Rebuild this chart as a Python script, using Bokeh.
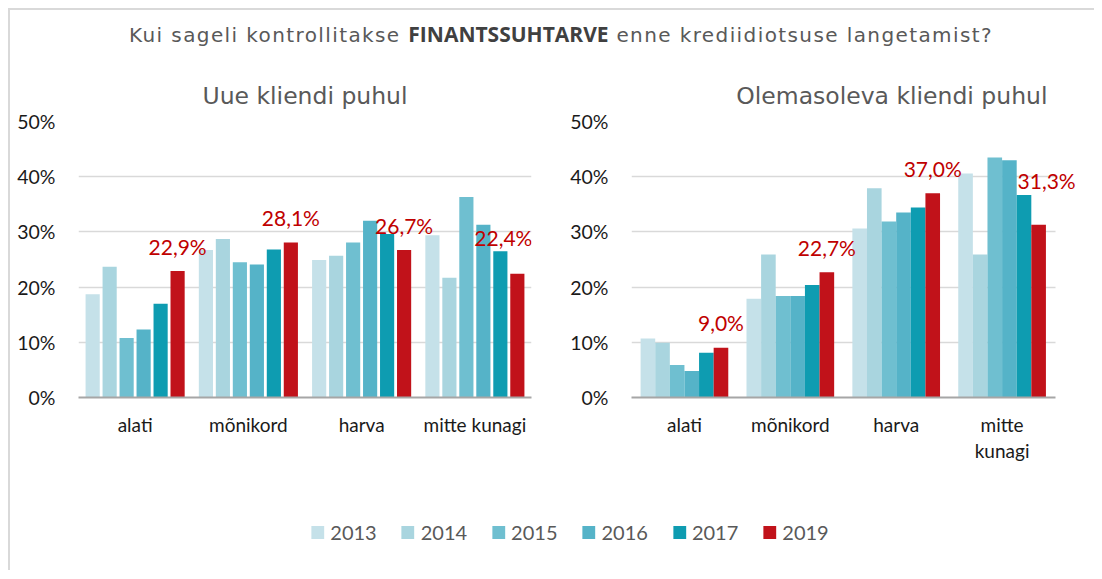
from bokeh.plotting import figure
from bokeh.models import (ColumnDataSource, Range1d, FixedTicker,
                          PrintfTickFormatter, Legend, LegendItem, Div, Label)
from bokeh.layouts import column, row
from bokeh.embed import file_html
from bokeh.resources import INLINE

# ---------------- data ----------------
categories = ["alati", "mõnikord", "harva", "mitte kunagi"]
left_tick_labels = ["alati", "mõnikord", "harva", "mitte kunagi"]
right_tick_labels = ["alati", "mõnikord", "harva", "mitte\nkunagi"]
years = ["2013", "2014", "2015", "2016", "2017", "2019"]

# Uue kliendi puhul
new_2013 = [18.7, 26.7, 24.9, 29.4]
new_2014 = [23.7, 28.7, 25.7, 21.7]
new_2015 = [10.8, 24.5, 28.1, 36.3]
new_2016 = [12.3, 24.1, 32.0, 31.3]
new_2017 = [17.0, 26.8, 29.6, 26.5]
new_2019 = [22.9, 28.1, 26.7, 22.4]

# Olemasoleva kliendi puhul
old_2013 = [10.7, 17.9, 30.6, 40.6]
old_2014 = [9.9, 25.9, 37.9, 25.9]
old_2015 = [5.9, 18.4, 31.9, 43.5]
old_2016 = [4.8, 18.4, 33.5, 43.0]
old_2017 = [8.1, 20.4, 34.4, 36.7]
old_2019 = [9.0, 22.7, 37.0, 31.3]

y_ticks = [0, 10, 20, 30, 40, 50]

# ---------------- style ----------------
colors = ["#C5E1E9", "#A9D5DF", "#6FBFD0", "#55B3C8", "#0E9CB1", "#C1121A"]
label_color = "#C00000"
title_color = "#595959"
grid_color = "#D9D9D9"
num_font = "Lato"
title_font = "DejaVu Sans"

# label nudges (screen px) for the 2019 value labels
left_dx = [0, 0, 0, -14]
left_dy = [0, 0, 0, -11]
right_dx = [0, 0, 0, 8]
right_dy = [0, 0, 0, -19]


def make_chart(title, tick_labels, series, width, mb_left, mb_right, x_end,
               step, bar_w, dx, dy, title_align, title_offset):
    ncat = len(categories)
    centers = [k + 0.5 for k in range(ncat)]   # category slots on the x scale
    p = figure(x_range=Range1d(0, x_end), y_range=Range1d(0, 50),
               width=width, height=420, toolbar_location=None,
               output_backend="svg", min_border_left=mb_left,
               min_border_right=mb_right, min_border_top=61,
               min_border_bottom=83)
    p.outline_line_color = None
    p.background_fill_color = "white"
    p.border_fill_color = "white"

    p.title.text = title
    p.title.align = title_align
    p.title.offset = title_offset
    p.title.text_font = title_font
    p.title.text_font_size = "23.5px"
    p.title.text_font_style = "normal"
    p.title.text_color = title_color
    p.title.standoff = 24

    n = len(series)
    for i, (vals, c) in enumerate(zip(series, colors)):
        off = (i - (n - 1) / 2) * step
        src = ColumnDataSource(dict(x=[cx + off for cx in centers], val=vals))
        p.vbar(x="x", top="val", width=bar_w, source=src,
               fill_color=c, line_color=None)

    # value labels of the last series (2019), placed via the plot's scales
    last = series[-1]
    last_off = ((n - 1) / 2) * step
    for k, v in enumerate(last):
        p.add_layout(Label(
            x=centers[k] + last_off, y=v, x_offset=dx[k], y_offset=25 - dy[k],
            text=("%.1f%%" % v).replace(".", ","),
            text_align="center", text_baseline="middle",
            text_font=num_font, text_font_size="21px",
            text_color=label_color))

    # y axis
    yax = p.yaxis[0]
    yax.ticker = FixedTicker(ticks=y_ticks)
    yax.formatter = PrintfTickFormatter(format="%d%%")
    yax.axis_line_color = None
    yax.major_tick_line_color = None
    yax.minor_tick_line_color = None
    yax.major_tick_out = 0
    yax.major_tick_in = 0
    yax.major_label_standoff = 23
    yax.major_label_text_font = num_font
    yax.major_label_text_font_size = "19.5px"
    yax.major_label_text_color = "#1A1A1A"

    # x axis (category names at the slot centres)
    xax = p.xaxis[0]
    xax.ticker = FixedTicker(ticks=centers)
    xax.major_label_overrides = {cx: t for cx, t in zip(centers, tick_labels)}
    xax.bounds = (0, ncat)
    xax.axis_line_color = "#A6A6A6"
    xax.axis_line_width = 2
    xax.major_tick_line_color = None
    xax.minor_tick_line_color = None
    xax.major_tick_out = 0
    xax.major_tick_in = 0
    xax.major_label_standoff = 15
    xax.major_label_text_font = num_font
    xax.major_label_text_font_size = "19px"
    xax.major_label_text_color = "#1A1A1A"
    xax.major_label_text_line_height = 1.15

    p.xgrid.grid_line_color = None
    p.ygrid.ticker = FixedTicker(ticks=y_ticks)
    p.ygrid.grid_line_color = grid_color
    p.ygrid.grid_line_width = 1.5
    try:
        p.ygrid.cross_bounds = (0, ncat)
    except Exception:
        p.ygrid.grid_line_color = None
        p.segment(x0=[0] * len(y_ticks), x1=[ncat] * len(y_ticks),
                  y0=y_ticks, y1=y_ticks, line_color=grid_color, line_width=1.5,
                  level="underlay")
    return p


left = make_chart("Uue kliendi puhul", left_tick_labels,
                  [new_2013, new_2014, new_2015, new_2016, new_2017, new_2019],
                  550, 68, 29, 4, 0.15, 0.125, left_dx, left_dy, "center", 0)
right = make_chart("Olemasoleva kliendi puhul", right_tick_labels,
                   [old_2013, old_2014, old_2015, old_2016, old_2017, old_2019],
                   534, 71, 13, 4.25, 0.138, 0.138, right_dx, right_dy,
                   "right", 34)

# legend figure
leg = figure(width=1084, height=90, toolbar_location=None, output_backend="svg",
             x_range=Range1d(0, 1), y_range=Range1d(0, 1),
             x_axis_location=None, y_axis_location=None,
             min_border_left=34, min_border_right=0, min_border_top=14,
             min_border_bottom=0)
leg.outline_line_color = None
leg.xgrid.grid_line_color = None
leg.ygrid.grid_line_color = None
items = []
for yr, c in zip(years, colors):
    r = leg.vbar(x=[5], top=[5], bottom=[4], width=0.1, fill_color=c,
                 line_color=None)
    items.append(LegendItem(label=yr, renderers=[r]))
legend = Legend(items=items, orientation="horizontal", location="center",
                glyph_width=16, glyph_height=16, label_standoff=5, spacing=23,
                padding=0, margin=0, border_line_color=None,
                background_fill_alpha=0, label_text_font=num_font,
                label_text_font_size="20px", label_text_color="#595959")
leg.add_layout(legend, "center")

title_html = (
    '<div style="position:relative; left:119px; padding-top:12px; '
    'font-family:\'DejaVu Sans\'; font-size:20px; line-height:24px; '
    'color:#595959; white-space:nowrap; letter-spacing:1.4px;">'
    'Kui sageli kontrollitakse '
    '<span style="font-family:\'Open Sans\'; font-weight:bold; font-size:21px; '
    'letter-spacing:0px; color:#404040;">FINANTSSUHTARVE</span>'
    ' enne krediidiotsuse langetamist?</div>'
)
title_div = Div(text=title_html, width=1084, height=50, margin=0)

layout = column(title_div, row(left, right), leg,
                styles={"margin-left": "8px", "margin-top": "8px",
                        "border-left": "2px solid #D9D9D9",
                        "border-top": "2px solid #D9D9D9"})

open("out.html", "w").write(file_html(layout, INLINE))
